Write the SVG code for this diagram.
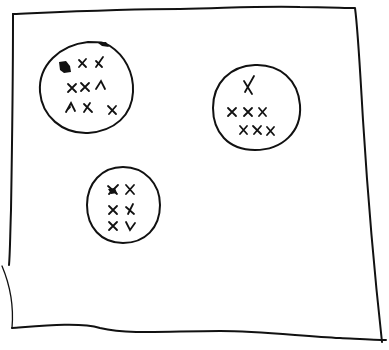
<svg xmlns="http://www.w3.org/2000/svg" width="389" height="350" viewBox="0 0 389 350">
<style>
.s{fill:none;stroke:#111;stroke-width:2;stroke-linecap:round;stroke-linejoin:round}
.t{fill:none;stroke:#111;stroke-width:1.3;stroke-linecap:round}
.x{fill:none;stroke:#111;stroke-width:1.8;stroke-linecap:round}
</style>
<rect width="389" height="350" fill="#fff"/>
<g id="frame">
<path class="s" d="M13,14 C60,12 120,9 180,9 C230,8 260,6 300,7 C325,7 345,8 355,8 C358,30 360,70 363,120 C368,200 374,270 382,342"/>
<path class="s" d="M13,14 L13,18 C13,80 12,150 11,210 C10,240 10,255 9,265"/>
<path class="t" d="M2,266 C10,285 14,305 12,328"/>
<path class="s" d="M12,328 C40,326 80,322 100,328 C130,335 170,331 220,331 C260,331 300,336 340,338 C360,339 375,340 386,340"/>
</g>
<g id="cluster1">
<path class="s" d="M88,42 C100,42 104,42 110,46 C124,55 134,72 133,92 C132,115 115,131 88,133 C62,134 42,116 40,92 C38,65 60,45 88,42 Z"/>
<path d="M98,43 L106,42 L109,47 L102,46 Z" fill="#111"/>
<path d="M59,62 L66,61 L70,66 L71,72 L64,73 L60,70 Z" fill="#111"/>
<path class="x" d="M79,60 L86,67 M86,59 L79,67"/>
<path class="x" d="M96,61 L102,67 M103,57 L96,67"/>
<path class="x" d="M68,84 L76,92 M76,84 L68,92"/>
<path class="x" d="M81,83 L89,91 M89,83 L81,91"/>
<path class="x" d="M96,89 L101,81 L105,89"/>
<path class="x" d="M66,112 L71,103 L75,111 M70,107 L67,110"/>
<path class="x" d="M84,112 L90,103 M84,104 L92,112"/>
<path class="x" d="M108,106 L116,114 M116,106 L109,114"/>
</g>
<g id="cluster2">
<path class="s" d="M255,65 C280,64 298,80 300,105 C302,132 282,150 255,150 C228,150 213,132 213,108 C213,83 230,66 255,65 Z"/>
<path class="x" d="M244,81 L252,94 M254,76 L245,92"/>
<path class="x" d="M228,108 L236,116 M236,108 L228,116"/>
<path class="x" d="M244,108 L252,116 M252,108 L244,116"/>
<path class="x" d="M259,108 L266,116 M266,108 L259,116"/>
<path class="x" d="M240,126 L247,134 M247,126 L240,134"/>
<path class="x" d="M253,126 L261,134 M261,126 L254,134"/>
<path class="x" d="M267,127 L274,135 M274,127 L267,135"/>
</g>
<g id="cluster3">
<path class="s" d="M123,167 C145,167 160,184 160,205 C160,228 145,243 123,243 C101,243 87,227 87,205 C87,183 102,167 123,167 Z"/>
<path class="x" d="M108,186 L117,194 M118,185 L109,194"/>
<path d="M108,189 L115,188 L117,193 L111,194 Z" fill="#111"/>
<path class="x" d="M126,185 L134,194 M134,185 L126,194"/>
<path class="x" d="M109,206 L117,214 M117,206 L109,214"/>
<path class="x" d="M126,207 L134,214 M133,204 L128,214"/>
<path class="x" d="M109,222 L117,230 M117,222 L109,230"/>
<path class="x" d="M126,222 L130,230 L135,223"/>
</g>
</svg>
